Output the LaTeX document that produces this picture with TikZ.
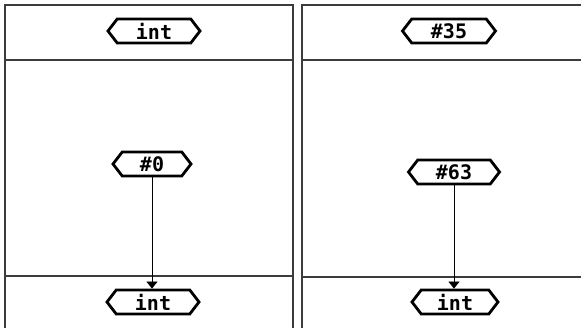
\documentclass[tikz,border=0pt]{standalone}
\usepackage{fontspec}
\setmonofont{DejaVu Sans Mono}
\usetikzlibrary{shapes.symbols, arrows.meta}
\definecolor{frame-line}{HTML}{3C3C3C}

\begin{document}
\begin{tikzpicture}[x=1pt, y=-1pt,
    every node/.style={font=\ttfamily\bfseries\fontsize{20}{20}\selectfont},
    tag/.style={draw, line width=2.8pt, signal, signal to=east and west,
      signal pointer angle=105, minimum height=24pt, inner xsep=4pt, inner ysep=2pt},
    panel/.style={draw=frame-line, line width=1.6pt},
    link/.style={-{Triangle[width=11pt, length=7pt]}, line width=0.8pt}]
    \useasboundingbox (0,0) rectangle (581,328);
    % left panel
    \draw[panel] (5,328) -- (5,5) -- (293,5) -- (293,328);
    \draw[panel] (5,60) -- (293,60);
    \draw[panel] (5,276) -- (293,276);
    \node[tag, minimum width=92pt] (lt) at (154,31) {int};
    \node[tag, minimum width=78pt] (lz) at (152,164) {\#0};
    \node[tag, minimum width=92pt] (lb) at (153,302) {int};
    \draw[link] (lz.south) -- (lz.south |- lb.north);
    % right panel
    \draw[panel] (302,328) -- (302,5) -- (581,5);
    \draw[panel] (302,60) -- (581,60);
    \draw[panel] (302,277) -- (581,277);
    \node[tag, minimum width=93pt] (rt) at (449,31) {\#35};
    \node[tag, minimum width=91pt] (rs) at (454,172) {\#63};
    \node[tag, minimum width=86pt] (rb) at (455,302) {int};
    \draw[link] (rs.south) -- (rs.south |- rb.north);
  \end{tikzpicture}
\end{document}
